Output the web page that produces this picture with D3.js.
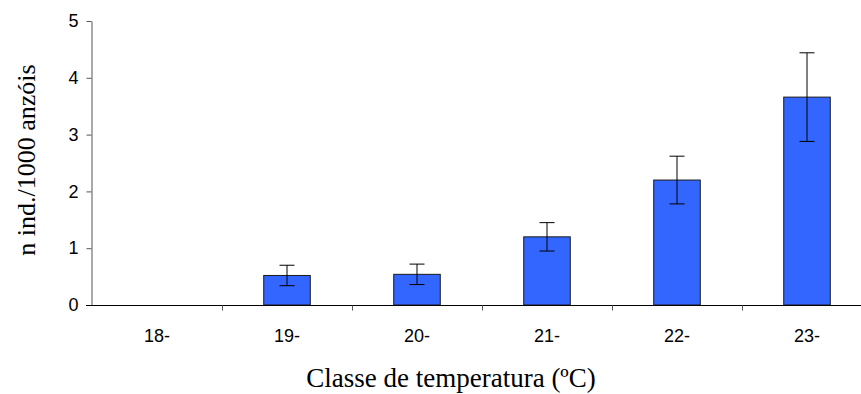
<!DOCTYPE html>
<html>
<head>
<meta charset="utf-8">
<script src="https://cdn.jsdelivr.net/npm/d3@7"></script>
<style>
  html, body { margin: 0; padding: 0; background: #fff; }
  svg { display: block; }
</style>
</head>
<body>
<svg id="chart" width="861" height="394"></svg>
<script>
// Catch per 1000 hooks by temperature class, with standard error
const categories = ["18-", "19-", "20-", "21-", "22-", "23-"];
const values = [0, 0.52, 0.54, 1.20, 2.20, 3.66];
const errors = [0, 0.18, 0.18, 0.25, 0.42, 0.78];
const yTicks = [0, 1, 2, 3, 4, 5];

const svg = d3.select("#chart");

const x = d3.scaleBand()
  .domain(categories)
  .range([92, 872])
  .paddingInner(0.642)
  .paddingOuter(0.321);

const step = x.step();

const y = d3.scaleLinear().domain([0, 5]).range([305, 21]);

// bars
svg.append("g")
  .selectAll("rect")
  .data(categories.map((c, i) => ({ c, v: values[i], e: errors[i] })).filter(d => d.v > 0))
  .join("rect")
  .attr("x", d => x(d.c))
  .attr("y", d => y(d.v))
  .attr("width", x.bandwidth())
  .attr("height", d => y(0) - y(d.v))
  .attr("fill", "#3366FF")
  .attr("stroke", "#1a1a1a")
  .attr("stroke-width", 1);

// error bars
const eb = svg.append("g")
  .attr("stroke", "#000")
  .attr("stroke-width", 1)
  .selectAll("g")
  .data(categories.map((c, i) => ({ c, v: values[i], e: errors[i] })).filter(d => d.e > 0))
  .join("g")
  .attr("transform", d => `translate(${x(d.c) + x.bandwidth() / 2},0)`);
eb.append("line")
  .attr("x1", 0).attr("x2", 0)
  .attr("y1", d => y(d.v + d.e)).attr("y2", d => y(d.v - d.e));
eb.append("line")
  .attr("x1", -7.5).attr("x2", 7.5)
  .attr("y1", d => y(d.v + d.e)).attr("y2", d => y(d.v + d.e));
eb.append("line")
  .attr("x1", -7.5).attr("x2", 7.5)
  .attr("y1", d => y(d.v - d.e)).attr("y2", d => y(d.v - d.e));

// y axis
const yAxis = svg.append("g")
  .attr("transform", "translate(91.5,0)")
  .call(d3.axisLeft(y).tickValues(yTicks).tickFormat(d3.format("d")).tickSize(5).tickSizeOuter(0));
yAxis.select(".domain").attr("stroke", "#555");
yAxis.selectAll(".tick line").attr("stroke", "#555");
yAxis.selectAll(".tick text")
  .attr("x", -13)
  .attr("fill", "#000")
  .style("font-family", "'Liberation Sans', Arial, sans-serif")
  .style("font-size", "18px");

// x axis: baseline plus boundary ticks between classes
const xAxis = svg.append("g").attr("transform", "translate(0,305.5)");
xAxis.append("line")
  .attr("x1", 86).attr("x2", 861)
  .attr("stroke", "#000").attr("stroke-width", 1);
xAxis.selectAll("line.sep")
  .data(categories.slice(1))
  .join("line")
  .attr("class", "sep")
  .attr("x1", d => Math.round(x(d) - (step - x.bandwidth()) / 2) + 0.5)
  .attr("x2", d => Math.round(x(d) - (step - x.bandwidth()) / 2) + 0.5)
  .attr("y1", 0).attr("y2", 5)
  .attr("stroke", "#555");
xAxis.selectAll("text")
  .data(categories)
  .join("text")
  .attr("x", d => x(d) + x.bandwidth() / 2)
  .attr("y", 36)
  .attr("text-anchor", "middle")
  .style("font-family", "'Liberation Sans', Arial, sans-serif")
  .style("font-size", "18px")
  .text(d => d);

// axis titles
svg.append("text")
  .attr("x", 451)
  .attr("y", 387)
  .attr("text-anchor", "middle")
  .style("font-family", "'Liberation Serif', 'Times New Roman', serif")
  .style("font-size", "27px")
  .text("Classe de temperatura (ºC)");

svg.append("text")
  .attr("transform", "translate(35,160) rotate(-90)")
  .attr("text-anchor", "middle")
  .style("font-family", "'Liberation Serif', 'Times New Roman', serif")
  .style("font-size", "26px")
  .text("n ind./1000 anzóis");
</script>
</body>
</html>
